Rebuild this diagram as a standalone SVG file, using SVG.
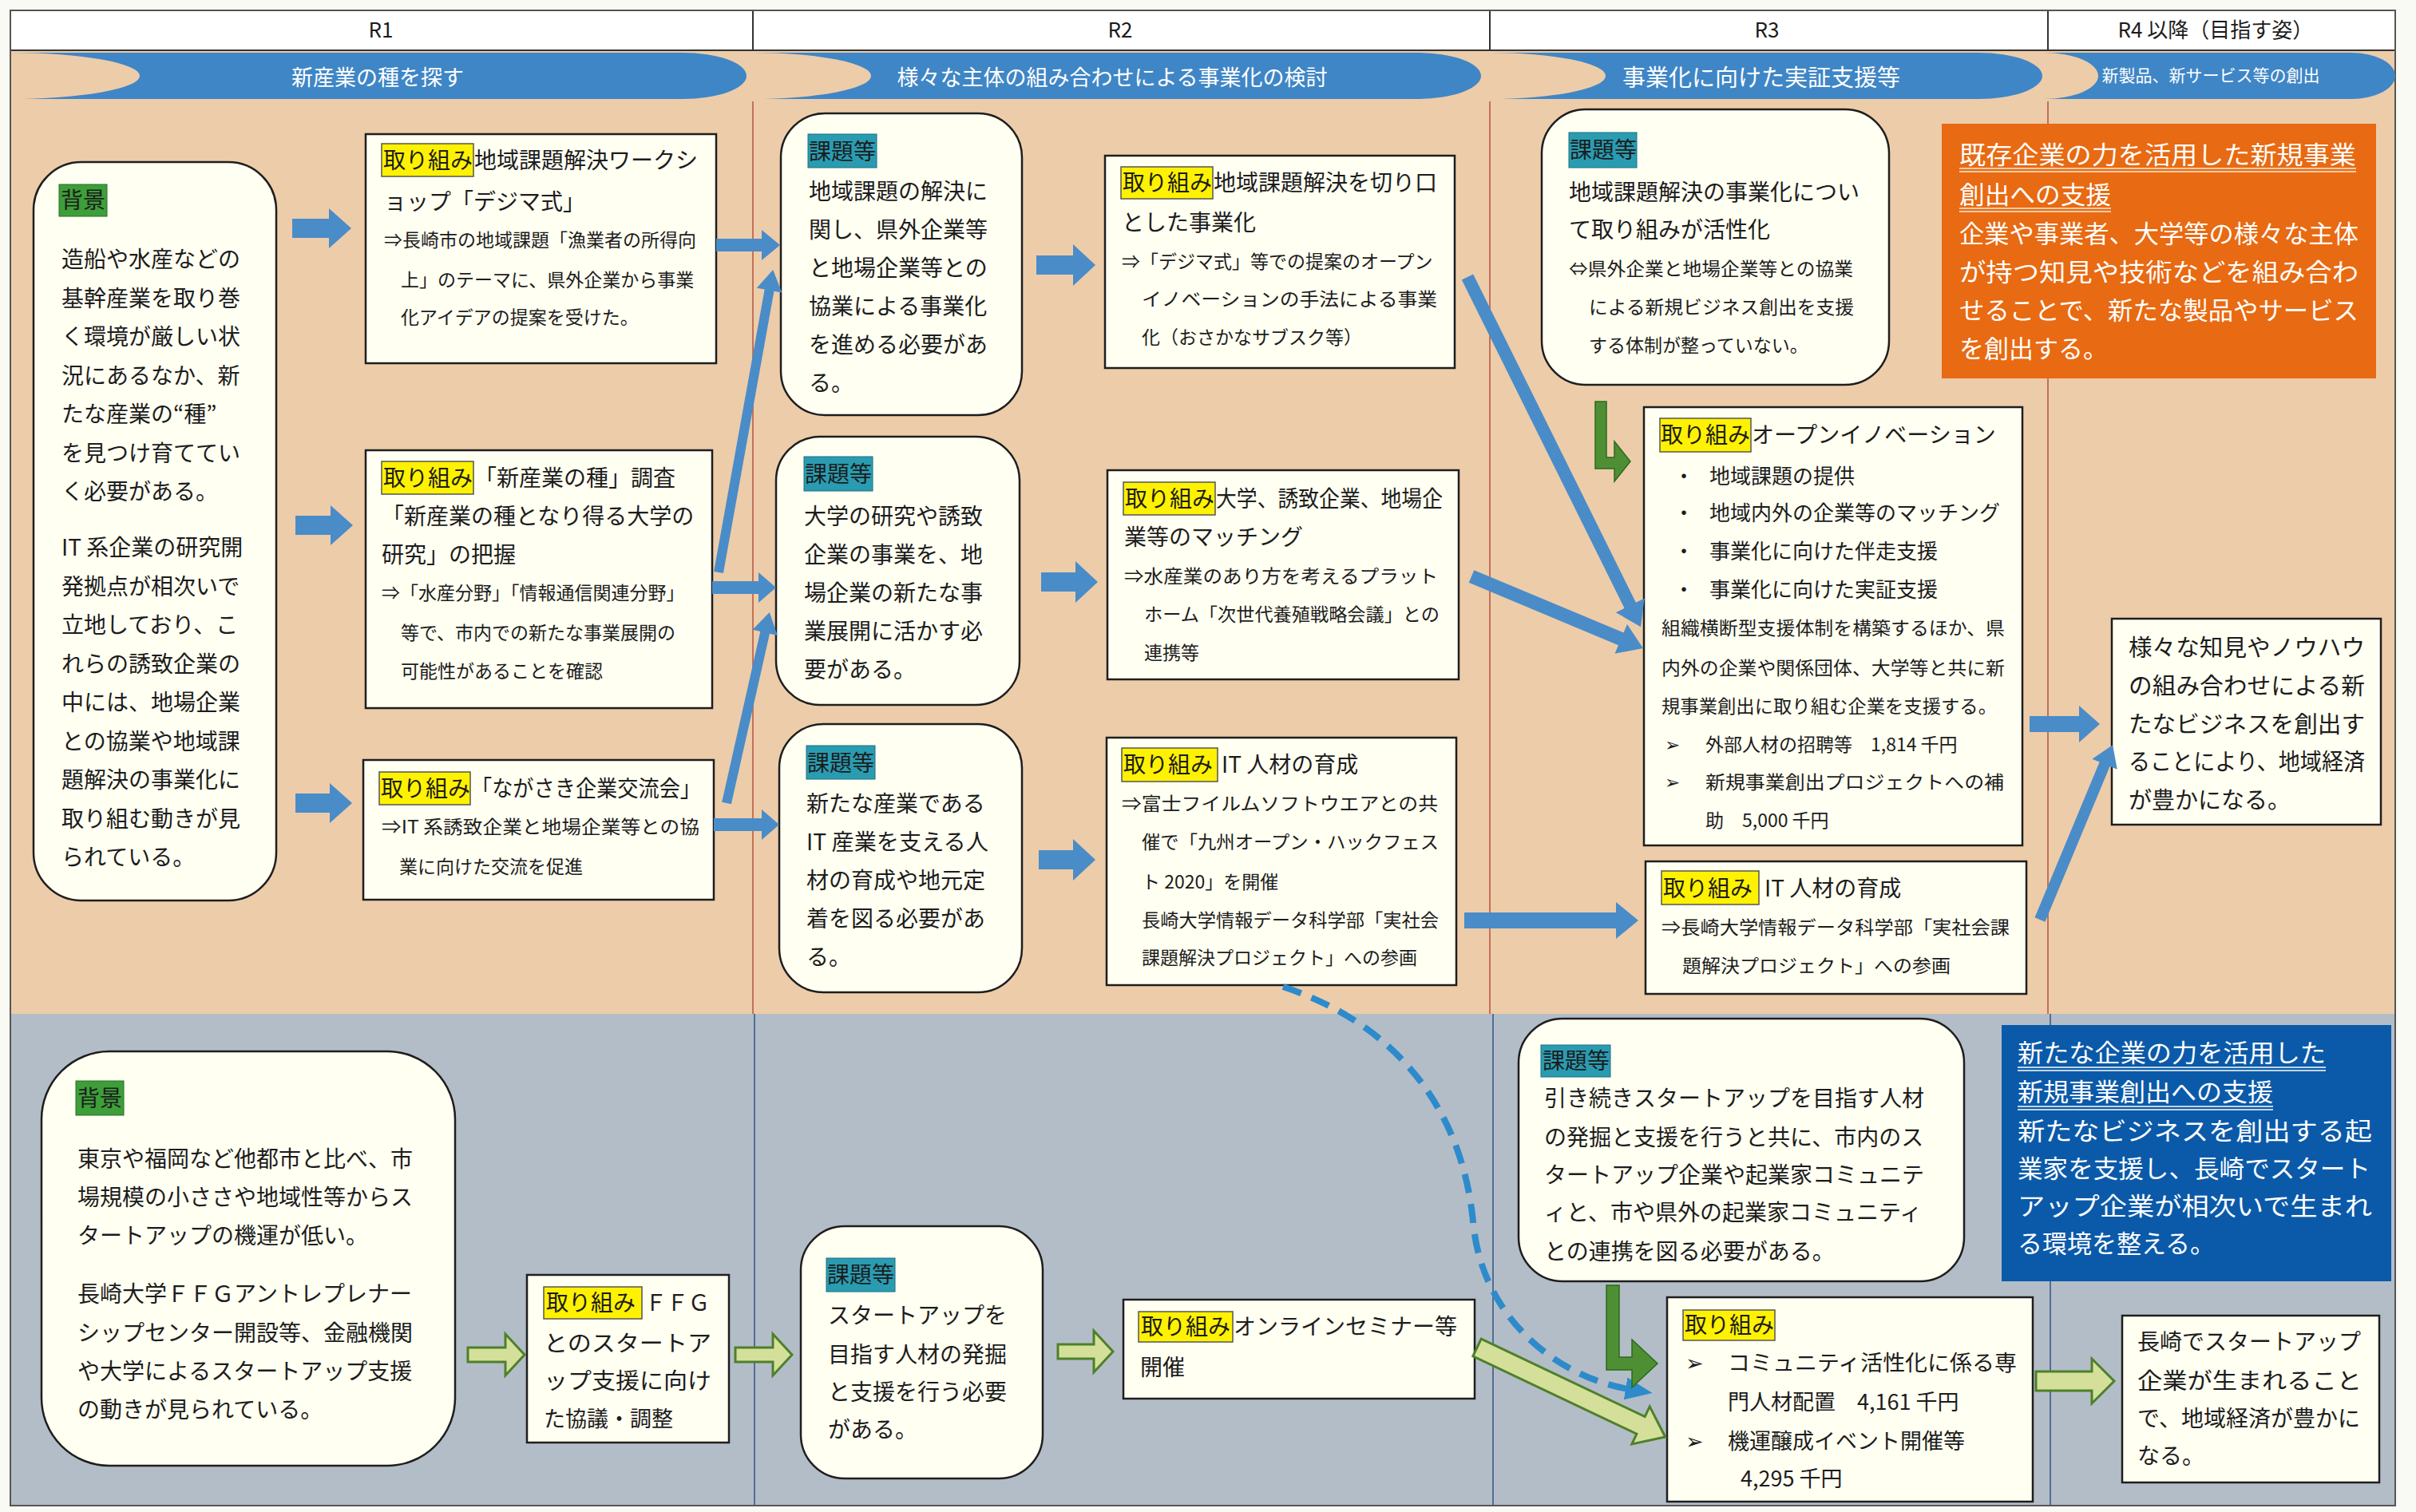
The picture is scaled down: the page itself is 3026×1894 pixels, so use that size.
<svg xmlns="http://www.w3.org/2000/svg" width="3026" height="1894" viewBox="0 0 3026 1894">
<style>
text{font-family:"Noto Sans CJK JP","Noto Sans JP","DejaVu Sans",sans-serif;fill:#1c1c1c}
.m{font-size:28px}
.s{font-size:23px}
.b26{font-size:26px}
.b27{font-size:27px}
.o31{font-size:31px;fill:#ffffff}
.hd{font-size:26px;text-anchor:middle}
.bn{fill:#ffffff;text-anchor:middle}
.box{fill:#FFFFF2;stroke:#1e1e1e;stroke-width:2.5}
.ly{fill:#FFF200;stroke:#555;stroke-width:1.5}
.lt{fill:#2A9CB2;stroke:#1d6f80;stroke-width:1}
.lg{fill:#3E9E3A;stroke:#2a6e28;stroke-width:1}
.arr{fill:#4A8CC8}
.lime{fill:#D4E09A;stroke:#4E802A;stroke-width:3}
.gL{fill:#4E8F34;stroke:#2E6A1C;stroke-width:1.5}
.ban{fill:#3F86C6}
.ul{stroke:#FBEBD5;stroke-width:1.6}
.ulb{stroke:#ffffff;stroke-width:1.6}
.colU{stroke:#B5533C;stroke-width:1.5}
.colL{stroke:#2F5583;stroke-width:1.5}
</style>
<defs>
<marker id="dh" markerWidth="40" markerHeight="40" refX="4" refY="20" orient="auto" markerUnits="userSpaceOnUse">
<path d="M0,6 L34,20 L0,34 Z" fill="#2D8BCB"/>
</marker>
</defs>

<!-- page and sections -->
<rect x="0" y="0" width="3026" height="1894" fill="#FAFAF4"/>
<rect x="13" y="63" width="2987" height="1207" fill="#EDCCAA"/>
<rect x="13" y="1270" width="2987" height="616" fill="#B3BDC8"/>
<rect x="13" y="13" width="2987" height="50" fill="#FFFFFF" stroke="#333" stroke-width="2"/>
<line x1="943" y1="13" x2="943" y2="63" stroke="#333" stroke-width="2"/>
<line x1="1866" y1="13" x2="1866" y2="63" stroke="#333" stroke-width="2"/>
<line x1="2565" y1="13" x2="2565" y2="63" stroke="#333" stroke-width="2"/>
<text class="hd" x="477" y="47">R1</text>
<text class="hd" x="1403" y="47">R2</text>
<text class="hd" x="2213" y="47">R3</text>
<text class="hd" x="2775" y="47">R4 以降（目指す姿）</text>

<!-- column lines -->
<line class="colU" x1="943" y1="127" x2="943" y2="1270"/>
<line class="colU" x1="1866" y1="127" x2="1866" y2="1270"/>
<line class="colU" x1="2565" y1="127" x2="2565" y2="1270"/>
<line class="colL" x1="945" y1="1270" x2="945" y2="1886"/>
<line class="colL" x1="1870" y1="1270" x2="1870" y2="1886"/>
<line class="colL" x1="2568" y1="1270" x2="2568" y2="1886"/>
<rect x="13" y="13" width="2987" height="1873" fill="none" stroke="#555" stroke-width="2"/>

<!-- banners -->
<g id="banner1">
<path class="ban" d="M13,66 H855 A80,29 0 0 1 855,124 H13 A162,29 0 0 0 13,66 Z"/>
<text class="bn" x="473" y="107" font-size="27">新産業の種を探す</text>
</g>
<g id="banner2">
<path class="ban" d="M943,66 H1775 A80,29 0 0 1 1775,124 H943 A148,29 0 0 0 943,66 Z"/>
<text class="bn" x="1393" y="107" font-size="27">様々な主体の組み合わせによる事業化の検討</text>
</g>
<g id="banner3">
<path class="ban" d="M1866,66 H2478 A80,29 0 0 1 2478,124 H1866 A145,29 0 0 0 1866,66 Z"/>
<text class="bn" x="2206" y="108" font-size="29">事業化に向けた実証支援等</text>
</g>
<g id="banner4">
<path class="ban" d="M2560,66 H2945 A55,29 0 0 1 2945,124 H2560 A68,29 0 0 0 2560,66 Z"/>
<text class="bn" x="2769" y="102" font-size="21">新製品、新サービス等の創出</text>
</g>

<!-- R1 upper -->
<g id="bg1">
<rect class="box" x="42" y="203" width="304" height="925" rx="60"/>
<rect class="lg" x="74" y="231" width="60" height="40"/>
<text class="m" x="76" y="261">背景</text>
<text class="m" x="77" y="335">造船や水産などの</text>
<text class="m" x="77" y="384">基幹産業を取り巻</text>
<text class="m" x="77" y="432">く環境が厳しい状</text>
<text class="m" x="77" y="481">況にあるなか、新</text>
<text class="m" x="77" y="529">たな産業の“種”</text>
<text class="m" x="77" y="578">を見つけ育ててい</text>
<text class="m" x="77" y="626">く必要がある。</text>
<text class="m" x="77" y="696">IT 系企業の研究開</text>
<text class="m" x="77" y="745">発拠点が相次いで</text>
<text class="m" x="77" y="793">立地しており、こ</text>
<text class="m" x="77" y="842">れらの誘致企業の</text>
<text class="m" x="77" y="890">中には、地場企業</text>
<text class="m" x="77" y="939">との協業や地域課</text>
<text class="m" x="77" y="987">題解決の事業化に</text>
<text class="m" x="77" y="1036">取り組む動きが見</text>
<text class="m" x="77" y="1084">られている。</text>
</g>

<g id="t1">
<rect class="box" x="458" y="168" width="439" height="287"/>
<rect class="ly" x="478" y="180" width="115" height="41"/>
<text class="m" x="480" y="211">取り組み</text>
<text class="m" x="594" y="211">地域課題解決ワークシ</text>
<text class="m" x="481" y="263">ョップ「デジマ式」</text>
<text class="s" x="481" y="309">⇒長崎市の地域課題「漁業者の所得向</text>
<text class="s" x="502" y="359">上」のテーマに、県外企業から事業</text>
<text class="s" x="502" y="406">化アイデアの提案を受けた。</text>
</g>

<g id="t2">
<rect class="box" x="458" y="564" width="434" height="323"/>
<rect class="ly" x="478" y="578" width="115" height="41"/>
<text class="m" x="480" y="609">取り組み</text>
<text class="m" x="594" y="609">「新産業の種」調査</text>
<text class="m" x="478" y="657">「新産業の種となり得る大学の</text>
<text class="m" x="478" y="705">研究」の把握</text>
<text class="s" x="478" y="751">⇒「水産分野」「情報通信関連分野」</text>
<text class="s" x="502" y="801">等で、市内での新たな事業展開の</text>
<text class="s" x="502" y="849">可能性があることを確認</text>
</g>

<g id="t3">
<rect class="box" x="455" y="952" width="439" height="175"/>
<rect class="ly" x="475" y="967" width="114" height="41"/>
<text class="m" x="477" y="998">取り組み</text>
<text class="m" x="590" y="998" textLength="288" lengthAdjust="spacingAndGlyphs">「ながさき企業交流会」</text>
<text class="s" x="478" y="1044" textLength="398" lengthAdjust="spacingAndGlyphs">⇒IT 系誘致企業と地場企業等との協</text>
<text class="s" x="500" y="1094">業に向けた交流を促進</text>
</g>

<!-- R2 upper -->
<g id="k1">
<rect class="box" x="978" y="142" width="302" height="378" rx="55"/>
<rect class="lt" x="1012" y="168" width="86" height="42"/>
<text class="m" x="1013" y="200">課題等</text>
<text class="m" x="1013" y="250">地域課題の解決に</text>
<text class="m" x="1013" y="298">関し、県外企業等</text>
<text class="m" x="1013" y="346">と地場企業等との</text>
<text class="m" x="1013" y="394">協業による事業化</text>
<text class="m" x="1013" y="442">を進める必要があ</text>
<text class="m" x="1013" y="490">る。</text>
</g>

<g id="k2">
<rect class="box" x="972" y="547" width="305" height="336" rx="55"/>
<rect class="lt" x="1007" y="572" width="86" height="43"/>
<text class="m" x="1008" y="604">課題等</text>
<text class="m" x="1007" y="657">大学の研究や誘致</text>
<text class="m" x="1007" y="705">企業の事業を、地</text>
<text class="m" x="1007" y="753">場企業の新たな事</text>
<text class="m" x="1007" y="801">業展開に活かす必</text>
<text class="m" x="1007" y="849">要がある。</text>
</g>

<g id="k3">
<rect class="box" x="976" y="907" width="304" height="336" rx="55"/>
<rect class="lt" x="1010" y="934" width="86" height="42"/>
<text class="m" x="1011" y="966">課題等</text>
<text class="m" x="1010" y="1017">新たな産業である</text>
<text class="m" x="1010" y="1065" textLength="228" lengthAdjust="spacingAndGlyphs">IT 産業を支える人</text>
<text class="m" x="1010" y="1113">材の育成や地元定</text>
<text class="m" x="1010" y="1161">着を図る必要があ</text>
<text class="m" x="1010" y="1209">る。</text>
</g>

<g id="t4">
<rect class="box" x="1384" y="195" width="438" height="266"/>
<rect class="ly" x="1404" y="209" width="115" height="40"/>
<text class="m" x="1406" y="239">取り組み</text>
<text class="m" x="1520" y="239">地域課題解決を切り口</text>
<text class="m" x="1405" y="289">とした事業化</text>
<text class="s" x="1405" y="336">⇒「デジマ式」等での提案のオープン</text>
<text class="s" x="1430" y="383" textLength="370" lengthAdjust="spacingAndGlyphs">イノベーションの手法による事業</text>
<text class="s" x="1430" y="431">化（おさかなサブスク等）</text>
</g>

<g id="t5">
<rect class="box" x="1387" y="589" width="440" height="262"/>
<rect class="ly" x="1407" y="604" width="115" height="41"/>
<text class="m" x="1409" y="635">取り組み</text>
<text class="m" x="1523" y="635" textLength="284" lengthAdjust="spacingAndGlyphs">大学、誘致企業、地場企</text>
<text class="m" x="1408" y="683">業等のマッチング</text>
<text class="s" x="1408" y="730" textLength="393" lengthAdjust="spacingAndGlyphs">⇒水産業のあり方を考えるプラット</text>
<text class="s" x="1433" y="778" textLength="370" lengthAdjust="spacingAndGlyphs">ホーム「次世代養殖戦略会議」との</text>
<text class="s" x="1433" y="826">連携等</text>
</g>

<g id="t6">
<rect class="box" x="1386" y="924" width="438" height="310"/>
<rect class="ly" x="1405" y="937" width="120" height="42"/>
<text class="m" x="1407" y="968">取り組み</text>
<text class="m" x="1530" y="968">IT 人材の育成</text>
<text class="s" x="1405" y="1015" textLength="396" lengthAdjust="spacingAndGlyphs">⇒富士フイルムソフトウエアとの共</text>
<text class="s" x="1430" y="1063" textLength="372" lengthAdjust="spacingAndGlyphs">催で「九州オープン・ハックフェス</text>
<text class="s" x="1430" y="1113">ト 2020」を開催</text>
<text class="s" x="1430" y="1161" textLength="372" lengthAdjust="spacingAndGlyphs">長崎大学情報データ科学部「実社会</text>
<text class="s" x="1430" y="1208">課題解決プロジェクト」への参画</text>
</g>

<!-- R3 upper -->
<g id="k4">
<rect class="box" x="1931" y="137" width="435" height="345" rx="55"/>
<rect class="lt" x="1965" y="166" width="85" height="44"/>
<text class="m" x="1966" y="198">課題等</text>
<text class="m" x="1965" y="251">地域課題解決の事業化につい</text>
<text class="m" x="1965" y="298">て取り組みが活性化</text>
<text class="s" x="1965" y="345" textLength="356" lengthAdjust="spacingAndGlyphs">⇔県外企業と地場企業等との協業</text>
<text class="s" x="1990" y="393" textLength="332" lengthAdjust="spacingAndGlyphs">による新規ビジネス創出を支援</text>
<text class="s" x="1990" y="441">する体制が整っていない。</text>
</g>

<g id="t7">
<rect class="box" x="2059" y="510" width="474" height="549"/>
<rect class="ly" x="2079" y="524" width="114" height="42"/>
<text class="m" x="2080" y="555">取り組み</text>
<text class="m" x="2194" y="555">オープンイノベーション</text>
<text class="b26" x="2096" y="606">・</text><text class="b26" x="2141" y="606">地域課題の提供</text>
<text class="b26" x="2096" y="652">・</text><text class="b26" x="2141" y="652">地域内外の企業等のマッチング</text>
<text class="b26" x="2096" y="700">・</text><text class="b26" x="2141" y="700">事業化に向けた伴走支援</text>
<text class="b26" x="2096" y="748">・</text><text class="b26" x="2141" y="748">事業化に向けた実証支援</text>
<text class="s" x="2081" y="795" textLength="430" lengthAdjust="spacingAndGlyphs">組織横断型支援体制を構築するほか、県</text>
<text class="s" x="2081" y="845" textLength="430" lengthAdjust="spacingAndGlyphs">内外の企業や関係団体、大学等と共に新</text>
<text class="s" x="2081" y="893" textLength="420" lengthAdjust="spacingAndGlyphs">規事業創出に取り組む企業を支援する。</text>
<text class="s" x="2085" y="941">➢</text><text class="s" x="2136" y="941">外部人材の招聘等　1,814 千円</text>
<text class="s" x="2085" y="988">➢</text><text class="s" x="2136" y="988" textLength="374" lengthAdjust="spacingAndGlyphs">新規事業創出プロジェクトへの補</text>
<text class="s" x="2136" y="1036">助　5,000 千円</text>
</g>

<g id="t8">
<rect class="box" x="2061" y="1079" width="477" height="166"/>
<rect class="ly" x="2081" y="1091" width="122" height="42"/>
<text class="m" x="2083" y="1123">取り組み</text>
<text class="m" x="2210" y="1123">IT 人材の育成</text>
<text class="s" x="2081" y="1170" textLength="436" lengthAdjust="spacingAndGlyphs">⇒長崎大学情報データ科学部「実社会課</text>
<text class="s" x="2107" y="1218" textLength="336" lengthAdjust="spacingAndGlyphs">題解決プロジェクト」への参画</text>
</g>

<!-- R4 upper -->
<g id="orange1">
<rect x="2432" y="155" width="544" height="319" fill="#E86A12"/>
<text class="o31" x="2454" y="205" textLength="497" lengthAdjust="spacingAndGlyphs">既存企業の力を活用した新規事業</text>
<line class="ul" x1="2454" y1="211" x2="2951" y2="211"/>
<line class="ul" x1="2454" y1="215" x2="2951" y2="215"/>
<text class="o31" x="2454" y="255" textLength="190" lengthAdjust="spacingAndGlyphs">創出への支援</text>
<line class="ul" x1="2454" y1="261" x2="2644" y2="261"/>
<line class="ul" x1="2454" y1="265" x2="2644" y2="265"/>
<text class="o31" x="2454" y="304" textLength="500" lengthAdjust="spacingAndGlyphs">企業や事業者、大学等の様々な主体</text>
<text class="o31" x="2454" y="352" textLength="500" lengthAdjust="spacingAndGlyphs">が持つ知見や技術などを組み合わ</text>
<text class="o31" x="2454" y="400" textLength="500" lengthAdjust="spacingAndGlyphs">せることで、新たな製品やサービス</text>
<text class="o31" x="2454" y="448">を創出する。</text>
</g>

<g id="goal1">
<rect class="box" x="2645" y="775" width="337" height="258"/>
<text x="2666" y="822" font-size="29" textLength="296" lengthAdjust="spacingAndGlyphs">様々な知見やノウハウ</text>
<text x="2666" y="870" font-size="29" textLength="296" lengthAdjust="spacingAndGlyphs">の組み合わせによる新</text>
<text x="2666" y="918" font-size="29" textLength="296" lengthAdjust="spacingAndGlyphs">たなビジネスを創出す</text>
<text x="2666" y="965" font-size="29" textLength="296" lengthAdjust="spacingAndGlyphs">ることにより、地域経済</text>
<text x="2666" y="1013" font-size="29">が豊かになる。</text>
</g>

<!-- lower section -->
<g id="bg2">
<rect class="box" x="52" y="1317" width="518" height="519" rx="85"/>
<rect class="lg" x="95" y="1354" width="60" height="43"/>
<text class="m" x="97" y="1386">背景</text>
<text class="m" x="97" y="1462">東京や福岡など他都市と比べ、市</text>
<text class="m" x="97" y="1510">場規模の小ささや地域性等からス</text>
<text class="m" x="97" y="1558">タートアップの機運が低い。</text>
<text class="m" x="97" y="1631">長崎大学ＦＦＧアントレプレナー</text>
<text class="m" x="97" y="1680">シップセンター開設等、金融機関</text>
<text class="m" x="97" y="1728">や大学によるスタートアップ支援</text>
<text class="m" x="97" y="1776">の動きが見られている。</text>
</g>

<g id="ffg">
<rect class="box" x="660" y="1597" width="253" height="210"/>
<rect class="ly" x="681" y="1612" width="123" height="40"/>
<text class="m" x="684" y="1642">取り組み</text>
<text class="m" x="808" y="1642" textLength="81" lengthAdjust="spacingAndGlyphs">ＦＦＧ</text>
<text class="m" x="681" y="1693" textLength="210" lengthAdjust="spacingAndGlyphs">とのスタートア</text>
<text class="m" x="681" y="1740" textLength="210" lengthAdjust="spacingAndGlyphs">ップ支援に向け</text>
<text class="b27" x="681" y="1787">た協議・調整</text>
</g>

<g id="k5">
<rect class="box" x="1003" y="1536" width="303" height="316" rx="55"/>
<rect class="lt" x="1035" y="1576" width="86" height="42"/>
<text class="m" x="1036" y="1607">課題等</text>
<text class="m" x="1037" y="1658">スタートアップを</text>
<text class="m" x="1037" y="1707">目指す人材の発掘</text>
<text class="m" x="1037" y="1754">と支援を行う必要</text>
<text class="m" x="1037" y="1801">がある。</text>
</g>

<g id="t9">
<rect class="box" x="1407" y="1628" width="440" height="124"/>
<rect class="ly" x="1426" y="1643" width="118" height="38"/>
<text class="m" x="1429" y="1672">取り組み</text>
<text class="m" x="1545" y="1672">オンラインセミナー等</text>
<text class="m" x="1428" y="1723">開催</text>
</g>

<g id="k6">
<rect class="box" x="1902" y="1276" width="558" height="329" rx="55"/>
<rect class="lt" x="1930" y="1309" width="87" height="40"/>
<text class="m" x="1932" y="1339">課題等</text>
<text class="m" x="1934" y="1386">引き続きスタートアップを目指す人材</text>
<text class="m" x="1934" y="1435">の発掘と支援を行うと共に、市内のス</text>
<text class="m" x="1934" y="1482">タートアップ企業や起業家コミュニテ</text>
<text class="m" x="1934" y="1529">ィと、市や県外の起業家コミュニティ</text>
<text class="m" x="1934" y="1578">との連携を図る必要がある。</text>
</g>

<g id="t10">
<rect class="box" x="2088" y="1625" width="458" height="256"/>
<rect class="ly" x="2108" y="1641" width="115" height="38"/>
<text class="m" x="2110" y="1670">取り組み</text>
<text class="b27" x="2111" y="1717">➢</text><text class="b27" x="2164" y="1717" textLength="362" lengthAdjust="spacingAndGlyphs">コミュニティ活性化に係る専</text>
<text class="b27" x="2164" y="1766">門人材配置　4,161 千円</text>
<text class="b27" x="2111" y="1815">➢</text><text class="b27" x="2164" y="1815">機運醸成イベント開催等</text>
<text class="b27" x="2180" y="1862">4,295 千円</text>
</g>

<g id="blue1">
<rect x="2507" y="1284" width="488" height="321" fill="#0B5AA9"/>
<text class="o31" x="2527" y="1330" textLength="386" lengthAdjust="spacingAndGlyphs">新たな企業の力を活用した</text>
<line class="ulb" x1="2527" y1="1337" x2="2913" y2="1337"/>
<line class="ulb" x1="2527" y1="1341" x2="2913" y2="1341"/>
<text class="o31" x="2527" y="1379" textLength="320" lengthAdjust="spacingAndGlyphs">新規事業創出への支援</text>
<line class="ulb" x1="2527" y1="1386" x2="2847" y2="1386"/>
<line class="ulb" x1="2527" y1="1390" x2="2847" y2="1390"/>
<text class="o31" x="2527" y="1428" textLength="444" lengthAdjust="spacingAndGlyphs">新たなビジネスを創出する起</text>
<text class="o31" x="2527" y="1475" textLength="442" lengthAdjust="spacingAndGlyphs">業家を支援し、長崎でスタート</text>
<text class="o31" x="2527" y="1522" textLength="444" lengthAdjust="spacingAndGlyphs">アップ企業が相次いで生まれ</text>
<text class="o31" x="2527" y="1569">る環境を整える。</text>
</g>

<g id="goal2">
<rect class="box" x="2658" y="1648" width="322" height="209"/>
<text class="m" x="2677" y="1691">長崎でスタートアップ</text>
<text class="m" x="2677" y="1740" textLength="281" lengthAdjust="spacingAndGlyphs">企業が生まれること</text>
<text class="m" x="2677" y="1787">で、地域経済が豊かに</text>
<text class="m" x="2677" y="1834">なる。</text>
</g>

<!-- connectors -->
<g id="connectors">
<path class="arr" d="M366,274 H412 V261 L440,286 L412,311 V298 H366 Z"/>
<path class="arr" d="M370,646 H414 V633 L442,658 L414,683 V670 H370 Z"/>
<path class="arr" d="M370,994 H413 V981 L441,1006 L413,1031 V1018 H370 Z"/>
<path class="arr" d="M897,299 H954 V288 L977,307 L954,326 V315 H897 Z"/>
<path class="arr" transform="translate(900,717) rotate(-79.8)" d="M0,-6 H359 V-16 L385,0 L359,16 V6 H0 Z"/>
<path class="arr" d="M892,728 H950 V717 L972,736 L950,755 V744 H892 Z"/>
<path class="arr" transform="translate(910,1006) rotate(-77.3)" d="M0,-6 H219 V-16 L245,0 L219,16 V6 H0 Z"/>
<path class="arr" d="M894,1025 H954 V1014 L976,1033 L954,1052 V1041 H894 Z"/>
<path class="arr" d="M1298,320 H1344 V306 L1372,332 L1344,358 V344 H1298 Z"/>
<path class="arr" d="M1304,717 H1347 V703 L1375,729 L1347,755 V741 H1304 Z"/>
<path class="arr" d="M1301,1065 H1344 V1051 L1372,1077 L1344,1103 V1089 H1301 Z"/>
<path class="arr" transform="translate(1838,347) rotate(63.65)" d="M0,-8 H459 V-20 L489,0 L459,20 V8 H0 Z"/>
<path class="arr" transform="translate(1843,722) rotate(22.7)" d="M0,-8.5 H203 V-20 L233,0 L203,20 V8.5 H0 Z"/>
<path class="arr" d="M1834,1143 H2024 V1130 L2052,1153 L2024,1176 V1163 H1834 Z"/>
<path class="arr" d="M2542,897 H2604 V884 L2630,907 L2604,930 V917 H2542 Z"/>
<path class="arr" transform="translate(2555,1152) rotate(-67.4)" d="M0,-7 H211 V-17 L237,0 L211,17 V7 H0 Z"/>
<path class="gL" d="M1998,503 H2012 V573 H2022 V553 L2042,578 L2022,603 V587 H1998 Z"/>
<path class="lime" d="M586,1688 H633 V1671 L657,1697 L633,1723 V1706 H586 Z"/>
<path class="lime" d="M921,1688 H968 V1671 L992,1697 L968,1723 V1706 H921 Z"/>
<path class="lime" d="M1325,1684 H1370 V1667 L1394,1693 L1370,1719 V1702 H1325 Z"/>
<path class="lime" transform="translate(1850,1688) rotate(25.4)" d="M0,-12 H227 V-26 L261,0 L227,26 V12 H0 Z"/>
<path class="lime" d="M2550,1718 H2620 V1702 L2648,1730 L2620,1758 V1742 H2550 Z"/>
<path d="M1607,1236 C1740,1280 1830,1380 1845,1530 C1855,1650 1950,1725 2040,1740" fill="none" stroke="#2D8BCB" stroke-width="8" stroke-dasharray="24 14" marker-end="url(#dh)"/>
<path class="gL" d="M2012,1610 H2028 V1700 H2044 V1678 L2076,1708 L2044,1738 V1716 H2012 Z"/>
</g>
</svg>
